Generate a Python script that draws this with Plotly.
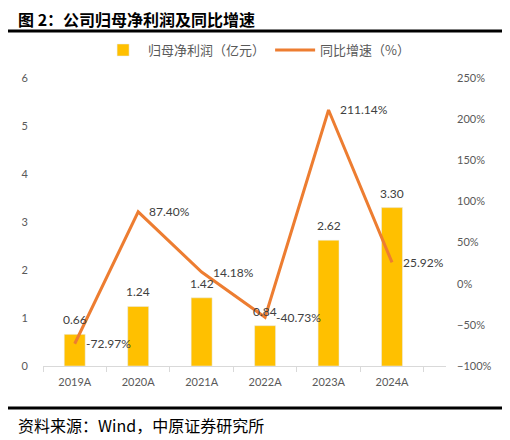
import plotly.graph_objects as go

years = ['2019A', '2020A', '2021A', '2022A', '2023A', '2024A']
profit = [0.66, 1.24, 1.42, 0.84, 2.62, 3.30]
growth = [-72.97, 87.40, 14.18, -40.73, 211.14, 25.92]

num_font = 'Lato, Calibri, Liberation Sans, sans-serif'
cjk_font = 'Noto Sans CJK SC'
grey = '#595959'
label_grey = '#404040'

fig = go.Figure()
fig.add_bar(x=years, y=profit, name='归母净利润（亿元）', marker_color='#FFC000', width=0.33)
fig.add_scatter(x=years, y=growth, name='同比增速（%）', yaxis='y2', mode='lines',
                line=dict(color='#ED7D31', width=3))

# data labels
for yr, v in zip(years, profit):
    fig.add_annotation(x=yr, y=v, yref='y', text=f'{v:.2f}', showarrow=False,
                       yanchor='bottom', yshift=5,
                       font=dict(size=12, color=label_grey, family=num_font))
for yr, v in zip(years, growth):
    fig.add_annotation(x=yr, y=v, yref='y2', text=f'{v:.2f}%', showarrow=False,
                       xanchor='left', xshift=9,
                       font=dict(size=12, color=label_grey, family=num_font))

# page body adds 8px margin, so the figure is made 8px smaller
fig.update_layout(
    width=502, height=432,
    margin=dict(l=35, r=64, t=70, b=74),
    plot_bgcolor='white', paper_bgcolor='white',
    showlegend=True,
    legend=dict(orientation='h', x=0.53, xanchor='center', y=1.097, yanchor='middle',
                font=dict(size=13, color=grey, family=cjk_font), traceorder='normal',
                itemwidth=40),
    xaxis=dict(showline=True, linecolor='#D9D9D9', linewidth=1, ticks='outside',
               tickson='boundaries', ticklen=5, tickcolor='#D9D9D9', ticklabelstandoff=6,
               tickfont=dict(size=11, color=grey, family=num_font)),
    yaxis=dict(range=[0, 6], dtick=1, showgrid=False, zeroline=False, ticklabelstandoff=14,
               tickfont=dict(size=11, color=grey, family=num_font)),
    yaxis2=dict(range=[-100, 250], dtick=50, ticksuffix='%', overlaying='y', side='right',
                showgrid=False, zeroline=False, ticklabelstandoff=10,
                tickfont=dict(size=11, color=grey, family=num_font)),
    font=dict(family=cjk_font),
)

# header / footer rules and text
fig.add_shape(type='line', xref='paper', yref='paper', x0=-0.094, x1=1.146, y0=1.163, y1=1.163,
              line=dict(color='black', width=3))
fig.add_shape(type='line', xref='paper', yref='paper', x0=-0.094, x1=1.146, y0=-0.146, y1=-0.146,
              line=dict(color='black', width=3))
fig.add_annotation(text='<b>图 2：公司归母净利润及同比增速</b>', xref='paper', yref='paper',
                   x=-0.068, y=1.205, xanchor='left', yanchor='middle', showarrow=False,
                   font=dict(size=16, color='black', family=cjk_font))
fig.add_annotation(text='资料来源：Wind，中原证券研究所', xref='paper', yref='paper',
                   x=-0.068, y=-0.205, xanchor='left', yanchor='middle', showarrow=False,
                   font=dict(size=16, color='black', family=cjk_font))

fig.write_html('out.html')
